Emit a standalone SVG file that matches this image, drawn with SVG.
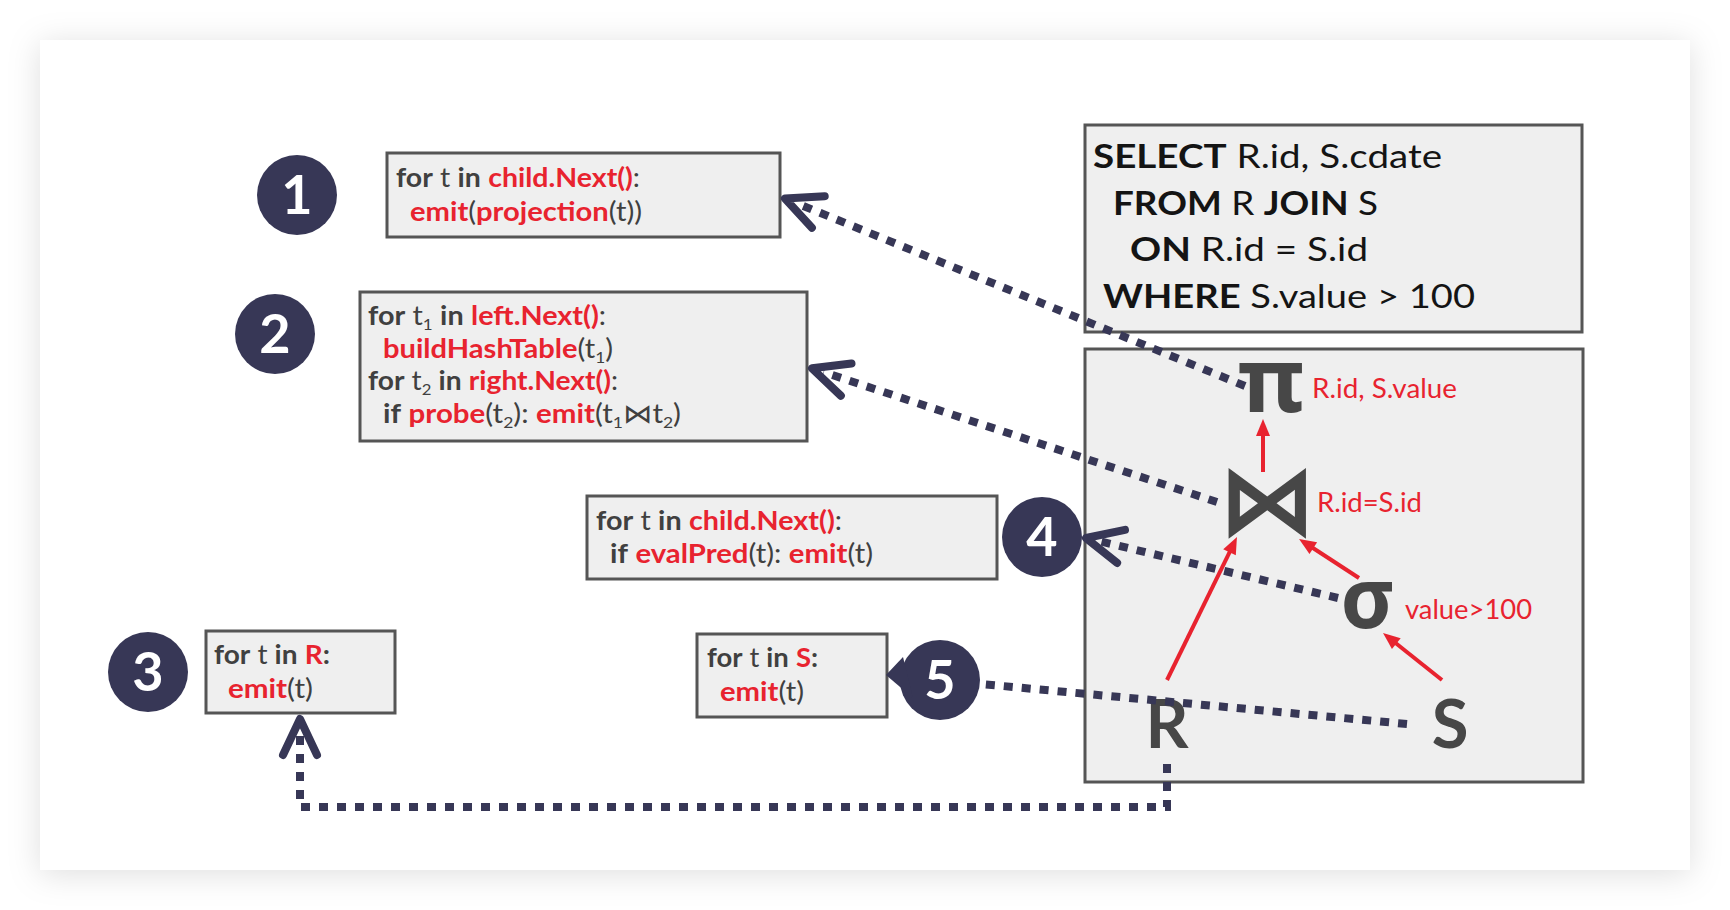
<svg xmlns="http://www.w3.org/2000/svg" width="1730" height="910" viewBox="0 0 1730 910">
<defs>
<filter id="sh" x="-10%" y="-10%" width="120%" height="120%">
<feDropShadow dx="0" dy="4" stdDeviation="16" flood-color="#000" flood-opacity="0.13"/>
</filter>
<marker id="chev" markerUnits="userSpaceOnUse" orient="auto" refX="-12" refY="0" overflow="visible">
<path d="M-36,-17 L0,0 L-36,17" fill="none" stroke="#373756" stroke-width="8" stroke-linecap="round" stroke-linejoin="round"/>
</marker>
<marker id="tri" markerUnits="userSpaceOnUse" orient="auto" refX="5" refY="0" overflow="visible">
<path d="M0,-7 L17,0 L0,7 Z" fill="#e8232f"/>
</marker>
<style>
.box{fill:#efefef;stroke:#555;stroke-width:3}
.code{font-family:Lato,"DejaVu Sans",sans-serif;font-size:27px;fill:#404040}
.b{font-weight:700}
.r{fill:#e8232f;font-weight:700}
.sub{font-size:16px}
.badge{fill:#373756}
.num{font-family:Lato,sans-serif;font-weight:700;font-size:54px;fill:#fff;text-anchor:middle}
.sql{font-family:Lato,sans-serif;font-size:33px;fill:#141414}
.lbl{font-family:Lato,sans-serif;font-size:26px;fill:#e8232f}
.glyph{fill:#474747;font-weight:700;text-anchor:middle}
.dot{fill:none;stroke:#373756;stroke-width:8;stroke-dasharray:9 9}
.red{fill:none;stroke:#e8232f;stroke-width:4}
</style>
</defs>
<rect x="0" y="0" width="1730" height="910" fill="#fff"/>
<rect x="40" y="40" width="1650" height="830" fill="#fff" filter="url(#sh)"/>

<g id="sql">
<rect class="box" x="1085" y="125" width="497" height="207"/>
<text class="sql" x="1093" y="168" textLength="349" lengthAdjust="spacingAndGlyphs"><tspan class="b">SELECT</tspan> R.id, S.cdate</text>
<text class="sql" x="1113" y="215" textLength="265" lengthAdjust="spacingAndGlyphs"><tspan class="b">FROM</tspan> R <tspan class="b">JOIN</tspan> S</text>
<text class="sql" x="1130" y="261" textLength="238" lengthAdjust="spacingAndGlyphs"><tspan class="b">ON</tspan> R.id = S.id</text>
<text class="sql" x="1103" y="308" textLength="372" lengthAdjust="spacingAndGlyphs"><tspan class="b">WHERE</tspan> S.value &gt; 100</text>
</g>

<g id="plan">
<rect class="box" x="1085" y="349" width="498" height="433"/>
</g>

<g id="op-projection">
<text class="glyph" x="1271" y="412" font-family="Noto Sans, DejaVu Sans, sans-serif" font-size="90">π</text>
<text class="lbl" x="1312" y="398" textLength="145" lengthAdjust="spacingAndGlyphs">R.id, S.value</text>
</g>
<g id="op-join">
<text class="glyph" x="1267" y="534" font-family="DejaVu Sans, sans-serif" font-size="98">⋈</text>
<text class="lbl" x="1317" y="512" textLength="105" lengthAdjust="spacingAndGlyphs">R.id=S.id</text>
</g>
<g id="op-select">
<text class="glyph" x="1368" y="628" font-family="Noto Sans, DejaVu Sans, sans-serif" font-size="84">σ</text>
<text class="lbl" x="1405" y="619" textLength="127" lengthAdjust="spacingAndGlyphs">value&gt;100</text>
</g>
<g id="rel-R">
<text class="glyph" x="1167" y="748" font-family="Lato, sans-serif" font-size="67">R</text>
</g>
<g id="rel-S">
<text class="glyph" x="1450" y="748" font-family="Lato, sans-serif" font-size="67">S</text>
</g>

<g id="step1">
<circle class="badge" cx="297" cy="195" r="40"/>
<text class="num" x="297" y="214">1</text>
<rect class="box" x="387" y="153" width="393" height="84"/>
<text class="code" x="396" y="187" textLength="244" lengthAdjust="spacingAndGlyphs"><tspan class="b">for</tspan> t <tspan class="b">in</tspan> <tspan class="r">child.Next()</tspan>:</text>
<text class="code" x="410" y="221" textLength="232" lengthAdjust="spacingAndGlyphs"><tspan class="r">emit</tspan>(<tspan class="r">projection</tspan>(t))</text>
</g>

<g id="step2">
<circle class="badge" cx="275" cy="334" r="40"/>
<text class="num" x="275" y="353">2</text>
<rect class="box" x="360" y="292" width="447" height="149"/>
<text class="code" x="368" y="325" textLength="238" lengthAdjust="spacingAndGlyphs"><tspan class="b">for</tspan> t<tspan class="sub" dy="5">1</tspan><tspan dy="-5"> </tspan><tspan class="b">in</tspan> <tspan class="r">left.Next()</tspan>:</text>
<text class="code" x="383" y="358" textLength="230" lengthAdjust="spacingAndGlyphs"><tspan class="r">buildHashTable</tspan>(t<tspan class="sub" dy="5">1</tspan><tspan dy="-5">)</tspan></text>
<text class="code" x="368" y="390" textLength="250" lengthAdjust="spacingAndGlyphs"><tspan class="b">for</tspan> t<tspan class="sub" dy="5">2</tspan><tspan dy="-5"> </tspan><tspan class="b">in</tspan> <tspan class="r">right.Next()</tspan>:</text>
<text class="code" x="383" y="423" textLength="298" lengthAdjust="spacingAndGlyphs"><tspan class="b">if</tspan> <tspan class="r">probe</tspan>(t<tspan class="sub" dy="5">2</tspan><tspan dy="-5">): </tspan><tspan class="r">emit</tspan>(t<tspan class="sub" dy="5">1</tspan><tspan dy="-5">⋈t</tspan><tspan class="sub" dy="5">2</tspan><tspan dy="-5">)</tspan></text>
</g>

<g id="step4">
<rect class="box" x="587" y="496" width="410" height="83"/>
<text class="code" x="596" y="530" textLength="246" lengthAdjust="spacingAndGlyphs"><tspan class="b">for</tspan> t <tspan class="b">in</tspan> <tspan class="r">child.Next()</tspan>:</text>
<text class="code" x="610" y="563" textLength="263" lengthAdjust="spacingAndGlyphs"><tspan class="b">if</tspan> <tspan class="r">evalPred</tspan>(t): <tspan class="r">emit</tspan>(t)</text>
<circle class="badge" cx="1042" cy="537" r="40"/>
<text class="num" x="1042" y="556">4</text>
</g>

<g id="step3">
<circle class="badge" cx="148" cy="672" r="40"/>
<text class="num" x="148" y="691">3</text>
<rect class="box" x="206" y="631" width="189" height="82"/>
<text class="code" x="214" y="664" textLength="116" lengthAdjust="spacingAndGlyphs"><tspan class="b">for</tspan> t <tspan class="b">in</tspan> <tspan class="r">R</tspan><tspan class="b">:</tspan></text>
<text class="code" x="228" y="698" textLength="85" lengthAdjust="spacingAndGlyphs"><tspan class="r">emit</tspan>(t)</text>
</g>

<g id="step5">
<rect class="box" x="697" y="634" width="190" height="83"/>
<text class="code" x="707" y="667" textLength="111" lengthAdjust="spacingAndGlyphs"><tspan class="b">for</tspan> t <tspan class="b">in</tspan> <tspan class="r">S</tspan><tspan class="b">:</tspan></text>
<text class="code" x="720" y="701" textLength="84" lengthAdjust="spacingAndGlyphs"><tspan class="r">emit</tspan>(t)</text>
<circle class="badge" cx="940" cy="680" r="40"/>
<polygon class="badge" points="903,657 886,675 913,698"/>
<text class="num" x="940" y="699">5</text>
</g>

<g id="connectors">
<path class="red" d="M1263,472 L1263,431" marker-end="url(#tri)"/>
<path class="red" d="M1167,680 L1231.7,547.8" marker-end="url(#tri)"/>
<path class="red" d="M1359,578 L1309.1,545.5" marker-end="url(#tri)"/>
<path class="red" d="M1442,680 L1392.4,640.5" marker-end="url(#tri)"/>
<path class="dot" d="M1245,386 L796.1,203" marker-end="url(#chev)"/>
<path class="dot" d="M1217,502 L823.4,372.1" marker-end="url(#chev)"/>
<path class="dot" d="M1338,598 L1097.7,540.8" marker-end="url(#chev)"/>
<path class="dot" d="M1407,724 L981,684"/>
<path class="dot" d="M1167,764 L1167,807 L300,807 L300,731" marker-end="url(#chev)"/>
</g>
</svg>
